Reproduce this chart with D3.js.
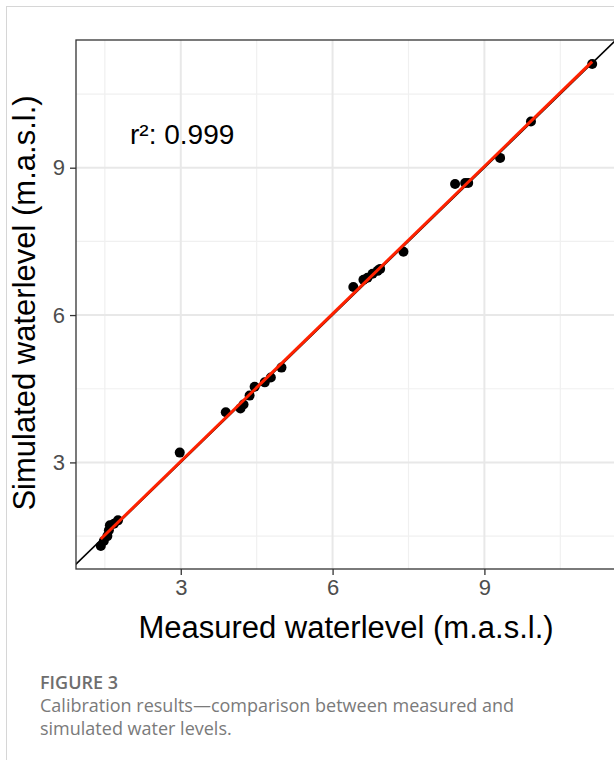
<!DOCTYPE html>
<html>
<head>
<meta charset="utf-8">
<script src="https://cdn.jsdelivr.net/npm/d3@7"></script>
<style>
  body { margin: 0; background: #fff; }
  svg { display: block; }
</style>
</head>
<body>
<div id="chart"></div>
<script>
// measured vs simulated water levels (m.a.s.l.)
var measured  = [1.42, 1.48, 1.55, 1.58, 1.60, 1.68, 1.76, 2.98, 3.89, 4.18, 4.24, 4.36, 4.46, 4.66, 4.78, 4.99,
                 6.41, 6.61, 6.69, 6.79, 6.89, 6.94, 7.40, 8.42, 8.62, 8.68, 9.31, 9.92, 11.13];
var simulated = [1.30, 1.40, 1.50, 1.62, 1.72, 1.75, 1.82, 3.20, 4.02, 4.10, 4.18, 4.36, 4.54, 4.63, 4.73, 4.93,
                 6.57, 6.72, 6.76, 6.84, 6.90, 6.94, 7.29, 8.67, 8.69, 8.69, 9.20, 9.94, 11.11];
var majorTicks = [3, 6, 9];
var minorTicks = [1.5, 4.5, 7.5, 10.5];
var r2Label = "r²: 0.999";

var svgWidth = 614;
var svgHeight = 760;

var svg = d3.select("#chart")
    .append("svg")
    .attr("width", svgWidth)
    .attr("height", svgHeight);

//card border
svg.append("rect")
    .attr("x", 6.5).attr("y", 6.5)
    .attr("width", 700).attr("height", 800)
    .attr("fill", "none")
    .attr("stroke", "#d6d6d6");

//panel area
var panel = { left: 76, top: 40, right: 617, bottom: 569 };

var x = d3.scaleLinear().domain([0.93, 11.62]).range([panel.left, panel.right]);
var y = d3.scaleLinear().domain([0.83, 11.6]).range([panel.bottom, panel.top]);

svg.append("clipPath").attr("id", "clip")
    .append("rect")
    .attr("x", panel.left).attr("y", panel.top)
    .attr("width", panel.right - panel.left).attr("height", panel.bottom - panel.top);

var plot = svg.append("g").attr("clip-path", "url(#clip)");

//grid lines
plot.selectAll(".vminor").data(minorTicks).enter().append("line")
    .attr("x1", d => x(d)).attr("x2", d => x(d))
    .attr("y1", panel.top).attr("y2", panel.bottom)
    .attr("stroke", "#f0f0f0").attr("stroke-width", 1.2);
plot.selectAll(".hminor").data(minorTicks).enter().append("line")
    .attr("y1", d => y(d)).attr("y2", d => y(d))
    .attr("x1", panel.left).attr("x2", panel.right)
    .attr("stroke", "#f0f0f0").attr("stroke-width", 1.2);
plot.selectAll(".vmajor").data(majorTicks).enter().append("line")
    .attr("x1", d => x(d)).attr("x2", d => x(d))
    .attr("y1", panel.top).attr("y2", panel.bottom)
    .attr("stroke", "#e8e8e8").attr("stroke-width", 2);
plot.selectAll(".hmajor").data(majorTicks).enter().append("line")
    .attr("y1", d => y(d)).attr("y2", d => y(d))
    .attr("x1", panel.left).attr("x2", panel.right)
    .attr("stroke", "#e8e8e8").attr("stroke-width", 2);

//1:1 line
plot.append("line")
    .attr("x1", x(0)).attr("y1", y(0))
    .attr("x2", x(13)).attr("y2", y(13))
    .attr("stroke", "#000").attr("stroke-width", 1.6);

//points
var pts = measured.map((m, i) => ({ m: m, s: simulated[i] }));
plot.selectAll("circle")
    .data(pts)
    .enter()
    .append("circle")
    .attr("cx", d => x(d.m))
    .attr("cy", d => y(d.s))
    .attr("r", 5)
    .attr("fill", "#000");

//least squares fit line
var mx = d3.mean(measured), my = d3.mean(simulated);
var sxy = d3.sum(pts, d => (d.m - mx) * (d.s - my));
var sxx = d3.sum(pts, d => (d.m - mx) * (d.m - mx));
var slope = sxy / sxx;
var icpt = my - slope * mx;
var xMin = d3.min(measured), xMax = d3.max(measured);
plot.append("line")
    .attr("x1", x(xMin)).attr("y1", y(icpt + slope * xMin))
    .attr("x2", x(xMax)).attr("y2", y(icpt + slope * xMax))
    .attr("stroke", "#ff2200").attr("stroke-width", 3);

//panel border
svg.append("rect")
    .attr("x", panel.left).attr("y", panel.top)
    .attr("width", panel.right - panel.left).attr("height", panel.bottom - panel.top)
    .attr("fill", "none")
    .attr("stroke", "#333").attr("stroke-width", 1.3);

//axes
var xAxis = svg.append("g")
    .attr("transform", `translate(0, ${panel.bottom})`)
    .call(d3.axisBottom(x).tickValues(majorTicks).tickSize(6).tickPadding(4).tickFormat(d3.format("d")));
var yAxis = svg.append("g")
    .attr("transform", `translate(${panel.left}, 0)`)
    .call(d3.axisLeft(y).tickValues(majorTicks).tickSize(6).tickPadding(5).tickFormat(d3.format("d")));
[xAxis, yAxis].forEach(function(a) {
    a.select(".domain").remove();
    a.selectAll(".tick line").attr("stroke", "#333").attr("stroke-width", 1.3);
    a.selectAll(".tick text")
        .attr("fill", "#4d4d4d")
        .style("font-family", "Liberation Sans, Arial, sans-serif")
        .style("font-size", "22px");
});

//axis titles
svg.append("text")
    .attr("x", 346).attr("y", 638)
    .attr("text-anchor", "middle")
    .style("font-family", "Liberation Sans, Arial, sans-serif")
    .style("font-size", "31px")
    .text("Measured waterlevel (m.a.s.l.)");

svg.append("text")
    .attr("transform", "translate(35, 303) rotate(-90)")
    .attr("text-anchor", "middle")
    .style("font-family", "Liberation Sans, Arial, sans-serif")
    .style("font-size", "31px")
    .text("Simulated waterlevel (m.a.s.l.)");

//r2 annotation
svg.append("text")
    .attr("x", 130).attr("y", 144)
    .style("font-family", "Liberation Sans, Arial, sans-serif")
    .style("font-size", "28px")
    .text(r2Label);

//caption
svg.append("text")
    .attr("x", 40).attr("y", 689)
    .attr("fill", "#6e6e6e")
    .style("font-family", "Open Sans, sans-serif")
    .style("font-size", "18px")
    .style("font-weight", "600")
    .text("FIGURE 3");
svg.append("text")
    .attr("x", 40).attr("y", 712)
    .attr("fill", "#7a7a7a")
    .style("font-family", "Open Sans, sans-serif")
    .style("font-size", "18px")
    .text("Calibration results\u2014comparison between measured and");
svg.append("text")
    .attr("x", 40).attr("y", 735)
    .attr("fill", "#7a7a7a")
    .style("font-family", "Open Sans, sans-serif")
    .style("font-size", "18px")
    .text("simulated water levels.");
</script>
</body>
</html>
